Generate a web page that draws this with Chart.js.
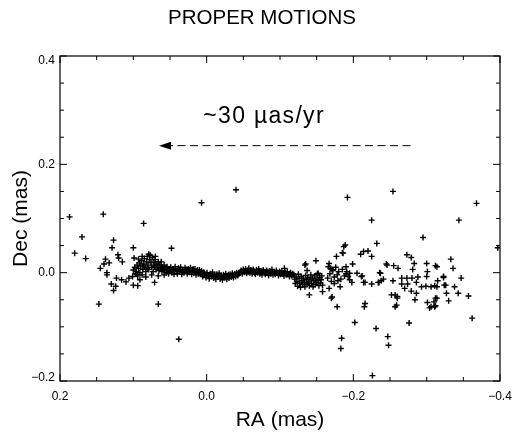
<!DOCTYPE html>
<html>
<head>
<meta charset="utf-8">
<script src="https://cdn.jsdelivr.net/npm/chart.js@4.4.0/dist/chart.umd.min.js"></script>
<style>
  html, body { margin: 0; padding: 0; background: #fff; }
</style>
</head>
<body>
<canvas id="pm" width="524" height="433"></canvas>
<script>
// [RA, Dec] in mas
const upperOutliers = [
  [0.187, 0.103], [0.141, 0.108], [0.086, 0.091], [0.007, 0.129], [-0.040, 0.153],
  [-0.192, 0.139], [-0.254, 0.150], [-0.225, 0.097], [-0.344, 0.097], [-0.368, 0.128],
  [-0.295, 0.065], [-0.397, 0.046]
];

const lowerOutliers = [
  [0.147, -0.058], [0.066, -0.058], [0.038, -0.123], [-0.202, -0.092], [-0.231, -0.103],
  [-0.276, -0.093], [-0.184, -0.121], [-0.183, -0.140], [-0.247, -0.118], [-0.248, -0.134],
  [-0.226, -0.190], [-0.362, -0.084]
];

const loopWest = [
  [0.170, 0.066], [0.180, 0.036], [0.165, 0.026], [0.127, 0.060], [0.129, 0.046],
  [0.100, 0.046], [0.048, 0.045], [0.138, 0.025], [0.140, 0.016], [0.133, 0.018],
  [0.145, 0.008], [0.136, 0.000], [0.136, -0.004], [0.121, 0.033], [0.120, 0.027],
  [0.115, 0.020], [0.099, 0.027], [0.123, -0.010], [0.116, -0.013], [0.110, -0.017],
  [0.106, -0.010], [0.101, -0.007], [0.130, -0.021], [0.124, -0.025], [0.127, -0.033],
  [0.100, -0.023], [0.094, -0.024], [0.091, -0.013], [0.095, -0.003], [0.071, -0.018]
];

const clusterWest = [
  [0.100, 0.005], [0.098, 0.010], [0.097, -0.002], [0.096, 0.002], [0.095, 0.014],
  [0.094, -0.006], [0.093, 0.008], [0.092, 0.018], [0.091, 0.000], [0.090, 0.012],
  [0.089, 0.022], [0.088, -0.004], [0.087, 0.006], [0.086, 0.016], [0.085, 0.026],
  [0.084, 0.010], [0.083, 0.002], [0.082, 0.020], [0.081, 0.030], [0.080, 0.014],
  [0.079, 0.006], [0.078, 0.024], [0.077, 0.032], [0.076, 0.018], [0.075, 0.010],
  [0.074, 0.028], [0.073, 0.002], [0.072, 0.020], [0.071, 0.012], [0.070, 0.024],
  [0.069, 0.006], [0.068, 0.016], [0.067, 0.010], [0.066, 0.020], [0.065, 0.004],
  [0.064, 0.014], [0.063, 0.008], [0.062, 0.012], [0.061, 0.002], [0.060, 0.010],
  [0.059, 0.006], [0.058, 0.014], [0.057, 0.004], [0.056, 0.009], [0.055, 0.000],
  [0.054, 0.011], [0.053, 0.005], [0.052, -0.002], [0.051, 0.007], [0.050, 0.003],
  [0.093, 0.025], [0.088, 0.030], [0.083, -0.008], [0.079, 0.034], [0.075, -0.004],
  [0.070, 0.030], [0.066, -0.006], [0.062, 0.020], [0.058, -0.004], [0.087, 0.012],
  [0.081, 0.008], [0.072, 0.014]
];

const bandWest = [
  [0.049, 0.010], [0.0475, 0.000], [0.046, 0.006], [0.0445, -0.003], [0.043, 0.011],
  [0.0415, 0.003], [0.040, -0.002], [0.0385, 0.008], [0.037, 0.002], [0.0355, 0.010],
  [0.034, -0.003], [0.0325, 0.005], [0.031, 0.000], [0.0295, 0.009], [0.028, 0.003],
  [0.0265, -0.002], [0.025, 0.007], [0.0235, 0.001], [0.022, 0.009], [0.0205, -0.003],
  [0.019, 0.004], [0.0175, 0.000], [0.016, 0.007], [0.0145, -0.004], [0.013, 0.003],
  [0.0115, -0.002], [0.010, 0.005]
];

const bandCentre = [
  [0.0085, -0.002], [0.007, 0.003], [0.0055, -0.007], [0.004, 0.001], [0.0025, -0.004],
  [0.001, -0.009], [-0.0005, 0.000], [-0.002, -0.005], [-0.0035, -0.011], [-0.005, -0.002],
  [-0.0065, -0.007], [-0.008, 0.001], [-0.0095, -0.010], [-0.011, -0.004], [-0.0125, -0.012],
  [-0.014, -0.003], [-0.0155, -0.008], [-0.017, -0.001], [-0.0185, -0.011], [-0.020, -0.005],
  [-0.0215, -0.013], [-0.023, -0.004], [-0.0245, -0.009], [-0.026, -0.002], [-0.0275, -0.012],
  [-0.029, -0.006], [-0.0305, -0.010], [-0.032, -0.003], [-0.0335, -0.008], [-0.035, -0.001],
  [-0.0365, -0.009], [-0.038, -0.004], [-0.0395, -0.007], [-0.041, 0.000], [-0.0425, -0.005],
  [-0.044, -0.002], [-0.0455, 0.001]
];

const bandEast = [
  [-0.047, 0.004], [-0.0485, -0.002], [-0.050, 0.006], [-0.0515, 0.001], [-0.053, 0.007],
  [-0.0545, -0.001], [-0.056, 0.004], [-0.0575, 0.008], [-0.059, 0.000], [-0.0605, 0.005],
  [-0.062, -0.002], [-0.0635, 0.006], [-0.065, 0.002], [-0.0665, -0.003], [-0.068, 0.005],
  [-0.0695, 0.000], [-0.071, 0.007], [-0.0725, -0.002], [-0.074, 0.003], [-0.0755, -0.004],
  [-0.077, 0.005], [-0.0785, 0.000], [-0.080, -0.003], [-0.0815, 0.004], [-0.083, -0.001],
  [-0.0845, -0.005], [-0.086, 0.003], [-0.0875, -0.002], [-0.089, 0.006], [-0.0905, -0.004],
  [-0.092, 0.001], [-0.0935, -0.003], [-0.095, 0.004], [-0.0965, -0.001], [-0.098, -0.005],
  [-0.0995, 0.002], [-0.101, -0.003], [-0.1025, 0.003], [-0.104, -0.002], [-0.1055, -0.006],
  [-0.106, 0.008], [-0.107, 0.001], [-0.1085, -0.004], [-0.110, 0.002], [-0.1115, -0.003],
  [-0.113, -0.007], [-0.1145, 0.000], [-0.116, -0.005], [-0.1175, -0.002]
];

// second pass through the dense track (epochs between the ones above)
const bandFill = [
  [0.0455, 0.004], [0.0425, 0.007], [0.0395, 0.002], [0.0365, 0.006], [0.0335, 0.001],
  [0.0305, 0.005], [0.0275, 0.006], [0.0245, 0.002], [0.0215, 0.004], [0.0185, 0.007],
  [0.0155, 0.001], [0.0125, 0.005], [0.0095, 0.000], [0.0065, -0.003], [0.0035, -0.001],
  [0.0005, -0.004], [-0.0025, -0.006], [-0.0055, -0.003], [-0.0085, -0.006], [-0.0115, -0.007],
  [-0.0145, -0.005], [-0.0175, -0.006], [-0.0205, -0.008], [-0.0235, -0.007], [-0.0265, -0.006],
  [-0.0295, -0.004], [-0.0325, -0.006], [-0.0355, -0.005], [-0.0385, -0.002], [-0.0415, -0.003],
  [-0.0445, -0.001], [-0.0475, 0.002], [-0.0505, 0.003], [-0.0535, 0.002], [-0.0565, 0.001],
  [-0.0595, 0.003], [-0.0625, 0.002], [-0.0655, 0.000], [-0.0685, 0.002], [-0.0715, 0.003],
  [-0.0745, 0.000], [-0.0775, 0.002], [-0.0805, 0.001], [-0.0835, 0.002], [-0.0865, -0.001],
  [-0.0895, 0.001], [-0.0925, -0.001], [-0.0955, 0.001], [-0.0985, -0.002], [-0.1015, 0.000],
  [-0.1045, -0.002], [-0.1075, -0.001], [-0.1105, -0.003], [-0.1135, -0.002], [-0.1165, -0.004]
];

const knotEast = [
  [-0.119, -0.004], [-0.120, -0.012], [-0.121, -0.020], [-0.122, -0.008], [-0.123, -0.016],
  [-0.124, -0.025], [-0.125, -0.003], [-0.126, -0.011], [-0.127, -0.019], [-0.128, -0.027],
  [-0.129, -0.007], [-0.130, -0.015], [-0.131, -0.022], [-0.132, -0.010], [-0.133, -0.018],
  [-0.134, -0.026], [-0.135, -0.005], [-0.136, -0.013], [-0.137, -0.021], [-0.138, -0.009],
  [-0.139, -0.017], [-0.140, -0.024], [-0.141, -0.012], [-0.142, -0.004], [-0.143, -0.020],
  [-0.144, -0.010], [-0.145, -0.026], [-0.146, -0.015], [-0.147, -0.006], [-0.148, -0.022],
  [-0.149, -0.012], [-0.150, -0.018], [-0.151, -0.003], [-0.152, -0.014], [-0.153, -0.024],
  [-0.154, -0.009], [-0.155, -0.019], [-0.156, -0.013], [-0.157, -0.006]
];

const scatterEast = [
  [-0.135, 0.016], [-0.149, 0.022], [-0.137, 0.004], [-0.152, -0.001], [-0.134, 0.014],
  [-0.167, 0.017], [-0.169, 0.008], [-0.166, 0.011], [-0.171, 0.006], [-0.177, 0.030],
  [-0.187, 0.048], [-0.186, 0.036], [-0.189, 0.051], [-0.185, 0.037], [-0.190, 0.011],
  [-0.158, -0.023], [-0.158, -0.035], [-0.171, -0.045], [-0.167, -0.029], [-0.174, -0.020],
  [-0.179, -0.015], [-0.182, -0.026], [-0.190, -0.002], [-0.195, -0.001], [-0.165, -0.010],
  [-0.168, -0.002], [-0.170, -0.016], [-0.172, 0.004], [-0.174, -0.008], [-0.176, 0.010],
  [-0.178, -0.004], [-0.180, 0.002], [-0.183, -0.012], [-0.185, 0.006], [-0.188, -0.006],
  [-0.140, -0.041], [-0.170, -0.047], [-0.178, -0.063], [-0.199, 0.016], [-0.205, -0.001],
  [-0.211, -0.007], [-0.191, 0.002], [-0.193, -0.007], [-0.195, -0.013], [-0.198, -0.018],
  [-0.210, 0.034], [-0.214, 0.039], [-0.220, 0.040], [-0.225, 0.030], [-0.232, 0.054],
  [-0.214, -0.018], [-0.216, -0.018], [-0.225, -0.021], [-0.234, -0.018], [-0.238, -0.015],
  [-0.241, -0.012], [-0.236, 0.000], [-0.237, -0.001], [-0.235, -0.018], [-0.212, -0.006],
  [-0.246, 0.014], [-0.255, 0.013], [-0.261, 0.008], [-0.245, 0.016], [-0.254, -0.015],
  [-0.266, -0.010], [-0.273, -0.010], [-0.280, -0.010], [-0.288, -0.008], [-0.300, -0.007],
  [-0.266, -0.021], [-0.274, -0.021], [-0.270, -0.029], [-0.286, -0.018], [-0.293, -0.026],
  [-0.299, -0.025], [-0.306, -0.026], [-0.311, -0.024], [-0.279, -0.034], [-0.286, -0.038],
  [-0.252, -0.041], [-0.257, -0.041], [-0.260, -0.044], [-0.259, -0.060], [-0.257, -0.063],
  [-0.260, -0.047], [-0.216, -0.057], [-0.215, -0.063], [-0.273, 0.033], [-0.279, 0.028],
  [-0.283, 0.017], [-0.300, 0.017], [-0.312, 0.013], [-0.281, 0.006], [-0.301, 0.002],
  [-0.284, -0.050], [-0.301, -0.055], [-0.310, -0.054], [-0.306, -0.063], [-0.311, -0.063],
  [-0.304, -0.065], [-0.312, -0.047], [-0.312, -0.061], [-0.314, -0.047], [-0.333, 0.025],
  [-0.336, 0.008], [-0.314, 0.011], [-0.323, -0.009], [-0.315, -0.015], [-0.324, -0.023],
  [-0.326, -0.023], [-0.314, -0.026], [-0.338, -0.026], [-0.347, -0.010], [-0.327, -0.038],
  [-0.343, -0.038], [-0.357, -0.043], [-0.330, -0.052], [-0.323, -0.007]
];

const xRange = [-0.4, 0.2];
const yRange = [-0.2, 0.4];
const minorStep = 0.05;
const majorStep = 0.2;

// annotation: rate arrow and its label (data units)
const arrowRA = [-0.278, 0.065];
const arrowDec = 0.2345;
const noteText = "~30 \u00b5as/yr";
const notePos = [0.0045, 0.276];

const FONT = "'Liberation Sans', Arial, Helvetica, sans-serif";

function isMajor(v) {
  return Math.abs(v / majorStep - Math.round(v / majorStep)) < 1e-6;
}
function fmt(v) {
  const r = Math.round(v * 10) / 10;
  return (r < 0 ? "\u2212" : "") + Math.abs(r).toFixed(1);
}

const allPoints = [].concat(upperOutliers, lowerOutliers, loopWest, clusterWest,
  bandWest, bandCentre, bandEast, bandFill, knotEast, scatterEast)
  .map(p => ({ x: p[0], y: p[1] }));

const framePlugin = {
  id: "frame",
  afterDraw(chart) {
    const { ctx, chartArea: a, scales: { x, y } } = chart;
    ctx.save();
    ctx.strokeStyle = "#000";
    ctx.lineWidth = 1.2;
    ctx.strokeRect(a.left, a.top, a.right - a.left, a.bottom - a.top);

    // inward ticks on all four sides
    ctx.lineWidth = 1;
    ctx.beginPath();
    x.ticks.forEach(t => {
      const px = x.getPixelForValue(t.value);
      const len = isMajor(t.value) ? 7 : 4;
      ctx.moveTo(px, a.bottom); ctx.lineTo(px, a.bottom - len);
      ctx.moveTo(px, a.top); ctx.lineTo(px, a.top + len);
    });
    y.ticks.forEach(t => {
      const py = y.getPixelForValue(t.value);
      const len = isMajor(t.value) ? 7 : 4;
      ctx.moveTo(a.left, py); ctx.lineTo(a.left + len, py);
      ctx.moveTo(a.right, py); ctx.lineTo(a.right - len, py);
    });
    ctx.stroke();

    // y tick labels, kept inside the frame height
    ctx.fillStyle = "#000";
    ctx.font = "12px " + FONT;
    ctx.textAlign = "right";
    ctx.textBaseline = "middle";
    y.ticks.forEach(t => {
      if (!isMajor(t.value)) return;
      let py = y.getPixelForValue(t.value);
      py = Math.min(Math.max(py, a.top + 5), a.bottom - 3);
      ctx.fillText(fmt(t.value), a.left - 5, py);
    });

    // title
    ctx.textAlign = "center";
    ctx.font = "20.5px " + FONT;
    ctx.fillText("PROPER MOTIONS", chart.width / 2, 18);

    // arrow annotation
    const tail = x.getPixelForValue(arrowRA[0]);
    const tip = x.getPixelForValue(arrowRA[1]);
    const ay = y.getPixelForValue(arrowDec);
    ctx.setLineDash([8, 4.5]);
    ctx.beginPath();
    ctx.moveTo(tail, ay);
    ctx.lineTo(tip + 12, ay);
    ctx.stroke();
    ctx.setLineDash([]);
    ctx.beginPath();
    ctx.moveTo(tip, ay);
    ctx.lineTo(tip + 12, ay - 4);
    ctx.lineTo(tip + 12, ay + 4);
    ctx.closePath();
    ctx.fill();

    ctx.textAlign = "left";
    ctx.textBaseline = "alphabetic";
    ctx.font = "23px " + FONT;
    ctx.letterSpacing = "1.3px";
    ctx.fillText(noteText, x.getPixelForValue(notePos[0]), y.getPixelForValue(notePos[1]));
    ctx.restore();
  }
};

new Chart(document.getElementById("pm"), {
  type: "scatter",
  data: {
    datasets: [{
      data: allPoints,
      pointStyle: "cross",
      pointRadius: 3,
      pointBorderWidth: 1.4,
      borderColor: "#000",
      backgroundColor: "#000",
      pointHoverRadius: 3
    }]
  },
  options: {
    responsive: false,
    animation: false,
    layout: { padding: { left: 0, right: 24, top: 56, bottom: 0 } },
    plugins: { legend: { display: false }, tooltip: { enabled: false } },
    scales: {
      x: {
        type: "linear",
        reverse: true,
        min: xRange[0],
        max: xRange[1],
        afterFit: s => { s.height = 52; },
        ticks: {
          stepSize: minorStep,
          autoSkip: false,
          maxRotation: 0,
          padding: 8,
          color: "#000",
          font: { family: FONT, size: 12 },
          callback: v => isMajor(v) ? fmt(v) : ""
        },
        grid: { display: false, drawTicks: false },
        border: { display: false },
        title: {
          display: true, text: "RA (mas)", color: "#000",
          font: { family: FONT, size: 21 }, padding: { top: 0, bottom: 0 }
        }
      },
      y: {
        type: "linear",
        min: yRange[0],
        max: yRange[1],
        afterFit: s => { s.width = 60; },
        ticks: { stepSize: minorStep, display: false },
        grid: { display: false, drawTicks: false },
        border: { display: false },
        title: {
          display: true, text: "Dec (mas)", color: "#000",
          font: { family: FONT, size: 21 }, padding: { top: 9, bottom: 0 }
        }
      }
    }
  },
  plugins: [framePlugin]
});
</script>
</body>
</html>
